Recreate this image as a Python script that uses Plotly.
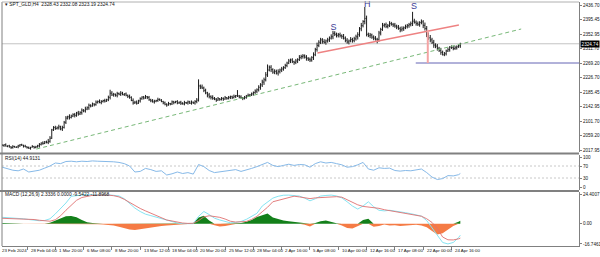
import plotly.graph_objects as go

# ---------------- data ----------------
title_text = "▾ SPT_GLD,H4  2328.43 2332.08 2323.19 2324.74"
rsi_title = "RSI(14) 44.9131"
macd_title = "MACD (12,26,9) 2.3336 0.0000 -9.5422 -11.8968"

close = [
    2029, 2032,
    2031, 2033, 2029, 2030, 2027, 2025, 2028, 2026, 2027, 2030,
    2033, 2032, 2029, 2027, 2025, 2023, 2026, 2028, 2025, 2027,
    2030, 2034, 2038, 2037, 2041, 2040, 2043, 2052, 2076, 2083,
    2080, 2082, 2085, 2079, 2083, 2098, 2110, 2114, 2112, 2116,
    2120, 2118, 2125, 2122, 2126, 2133, 2131, 2136, 2140, 2147,
    2145, 2151, 2149, 2156, 2158, 2155, 2158, 2161, 2159, 2163,
    2170, 2182, 2177, 2179, 2176, 2181, 2179, 2182, 2178, 2180,
    2176, 2173, 2170, 2161, 2154, 2156, 2153, 2160, 2166, 2171,
    2168, 2172, 2170, 2163, 2160, 2157, 2159, 2161, 2164, 2162,
    2158, 2154, 2150, 2148, 2152, 2151, 2157, 2155, 2158, 2154,
    2156, 2153, 2151, 2155, 2154, 2157, 2153, 2156, 2154, 2158,
    2162, 2203, 2200, 2197, 2190, 2183, 2177, 2172, 2170, 2167,
    2165, 2162, 2166, 2164, 2167, 2165, 2169, 2167, 2170, 2172,
    2169, 2173, 2175, 2174, 2171, 2169, 2167, 2170, 2174, 2176,
    2177, 2180, 2184, 2188, 2192, 2199, 2206, 2214, 2221, 2235,
    2249, 2257, 2250, 2243, 2245, 2240, 2244, 2249, 2252, 2256,
    2262, 2269, 2275, 2278, 2273, 2271, 2275, 2279, 2285, 2288,
    2290, 2286, 2283, 2280, 2278, 2285, 2293, 2308, 2320, 2329,
    2336, 2331, 2329, 2333, 2336, 2341, 2345, 2355, 2352, 2349,
    2351, 2348, 2346, 2341, 2335, 2330, 2333, 2337, 2334, 2339,
    2345, 2351, 2368, 2377, 2389, 2398, 2352, 2348, 2350, 2344,
    2341, 2338, 2336, 2356, 2366, 2378, 2380, 2375, 2377, 2383,
    2381, 2379, 2376, 2373, 2369, 2365, 2368, 2371, 2374, 2377,
    2380, 2383, 2390, 2387, 2383, 2381, 2386, 2388, 2378, 2369,
    2352, 2342, 2336, 2329, 2321, 2318, 2312, 2306, 2300, 2293,
    2296, 2304, 2308, 2315, 2314, 2311, 2313, 2316, 2319, 2324.74,
]
# estimated wick lengths above / below each bar body (price units, one digit per bar)
wick_up = ("23"
           "3241324213" "2314231423" "3425347634" "5463546374" "4536453745"
           "3425364253" "5364253642" "4253645342" "3524354253" "3243524324"
           "2435243524" "6547453646" "4352435243" "3524352435" "3435465768"
           "7564657464" "5464536475" "5463547586" "6574657465" "5647564756"
           "6758468564" "5646574657" "5464657465" "5647564758" "7586756475"
           "5463546453")
wick_dn = ("32"
           "2413243124" "3241324132" "2534235423" "4354635463" "3645364536"
           "4253425342" "4635463524" "3542534253" "4253425342" "2435243524"
           "3524352435" "5463547564" "3524352435" "4253425342" "4354657685"
           "6475647565" "4536475645" "6475657465" "5647564756" "6574657465"
           "5867586475" "6465746564" "4656475645" "6574657586" "8675867576"
           "4536454536")
wick_high = {63: 2192, 113: 2222, 135: 2191, 152: 2265, 189: 2362, 207: 2431, 234: 2417}
wick_low = {214: 2326, 251: 2291}
last_price = 2324.74

price_ticks = [2436.70, 2395.45, 2352.95, 2311.70, 2269.20, 2226.70,
               2185.45, 2142.95, 2101.70, 2059.20, 2017.95]
price_ticktext = ["2436.70", "2395.45", "2352.95", "2311.70", "2269.20", "2226.70",
                  "2185.45", "2142.95", "2101.70", "2059.20", "2017.95"]

x_labels = ["23 Feb 2024", "28 Feb 04:00", "1 Mar 20:00", "6 Mar 08:00", "8 Mar 20:00",
            "13 Mar 12:00", "18 Mar 04:00", "20 Mar 20:00", "25 Mar 12:00", "28 Mar 04:00",
            "2 Apr 16:00", "5 Apr 08:00", "10 Apr 00:00", "12 Apr 16:00", "17 Apr 08:00",
            "22 Apr 00:00", "24 Apr 16:00"]
LABEL_STEP = 16

rsi_values = [66, 60, 56, 54, 60, 50, 53, 56, 63, 70,
              80, 78, 85, 86, 84, 86, 85, 87, 86, 86,
              85, 84, 82, 78, 70, 50, 52, 62, 58, 52,
              54, 40, 44, 50, 45, 48, 43, 75, 68, 55,
              48, 50, 53, 56, 58, 52, 56, 62, 68, 76,
              82, 72, 68, 72, 76, 72, 75, 74, 66, 78,
              84, 80, 82, 78, 74, 66, 68, 74, 82, 60,
              56, 64, 62, 63, 55, 53, 55, 54, 56, 60,
              48, 33, 25, 28, 38, 37, 41, 44.9131]

macd_main = [5.2, 5.0, 4.8, 4.5, 4.0, 3.4, 2.8, 2.4, 2.6, 4.0,
             8.0, 12.5, 17.0, 22.5, 23.3, 23.6, 23.8, 23.9, 23.8, 23.8,
             23.6, 23.3, 22.8, 20.5, 16.8, 12.8, 10.0, 7.8, 6.6, 5.4,
             3.8, 2.4, 1.3, 0.5, 0.0, -0.3, 0.0, 6.0, 10.0, 7.5,
             4.5, 3.0, 1.8, 0.7, 1.0, 1.8, 3.5, 6.0, 8.5, 14.5,
             17.5, 21.0, 22.5, 23.4, 23.5, 23.3, 22.7, 21.0, 18.8, 20.5,
             22.7, 23.2, 23.5, 22.8, 21.2, 18.0, 14.5, 12.0, 14.5, 18.0,
             13.9, 11.0, 10.5, 11.0, 10.5, 9.8, 9.0, 8.2, 7.4, 6.2,
             2.5, -3.5, -8.5, -15.5, -16.7, -15.5, -11.5, -9.5422]

macd_signal = [4.4, 4.3, 4.2, 4.1, 3.9, 3.6, 3.4, 2.8, 2.3, 2.0,
               3.2, 6.5, 11.0, 15.5, 19.2, 21.5, 22.7, 23.3, 23.5, 23.6,
               23.5, 23.0, 22.0, 20.0, 17.5, 14.8, 12.5, 10.5, 8.5, 6.9,
               5.0, 3.0, 2.2, 1.1, 0.5, 0.2, 0.3, 2.5, 5.5, 6.5,
               6.0, 5.2, 3.8, 2.0, 1.3, 1.3, 1.8, 3.5, 6.0, 9.8,
               13.5, 18.0, 19.2, 20.8, 21.8, 22.6, 22.0, 21.2, 20.6, 21.2,
               21.6, 22.0, 22.1, 22.2, 21.8, 19.8, 17.2, 15.5, 14.2, 13.8,
               13.2, 12.6, 11.5, 10.8, 9.8, 9.2, 8.4, 7.5, 6.9, 6.1,
               4.0, 1.0, -4.0, -11.0, -13.3, -13.4, -12.5, -11.8968]

macd_hist = [0.5, 0.6, 0.4, 0.2, -0.3, -0.6, -0.5, -0.4, -0.2, 0.8,
             2.5, 4.2, 6.0, 6.3, 5.2, 3.0, 1.2, 0.6, -0.4, -0.8,
             -1.0, -1.6, -2.5, -3.6, -4.9, -5.3, -4.6, -3.6, -3.0, -2.5,
             -2.0, -1.6, -1.1, -0.6, -0.3, -0.2, 0.3, 5.0, 6.5, 2.5,
             -1.4, -2.4, -2.0, -1.0, -0.3, 0.5, 1.5, 3.0, 5.5, 7.0,
             8.3, 5.0, 3.5, 2.5, 2.0, 1.5, 0.8, -1.0, -2.4, 0.5,
             2.0, 2.5, 1.5, 0.3, -1.5, -3.5, -4.0, -2.0, 3.0, 4.0,
             -2.5, -2.0, -0.6, -1.5, -1.4, -2.0, -1.5, -1.5, -1.0, -1.5,
             -3.0, -6.0, -9.0, -8.0, -5.0, -2.0, 1.5, 2.3336]
IND_STEP = 3
IND_START = 2

# chart drawings (bar index, price)
green_trend_x = [21.3, 295.4]
green_trend_y = [2020.8, 2367.4]
neckline_x = [180.2, 260.2]
neckline_y = [2298.1, 2379.0]
target_level = 2269.20
target_start = 235.8
drop_bar = 242.6
drop_range = [2269.2, 2365.0]
pattern_text = ["S", "H", "S"]
pattern_x = [189.3, 208.4, 234.8]
pattern_y = [2370.0, 2436.7, 2431.0]

# ---------------- figure ----------------
FONT = "Liberation Sans"
X_RANGE = [1.865, 328.1]
PLOT_TOP, PLOT_BOTTOM = 2, 246
PH = PLOT_BOTTOM - PLOT_TOP


def py(pix):
    return (PLOT_BOTTOM - pix) / PH


def px_paper(bar):
    return (bar - X_RANGE[0]) / (X_RANGE[1] - X_RANGE[0])


n = len(close)
x_bars = list(range(n))
opens = [close[0]] + close[:-1]
highs = [max(o, c) + int(w) for o, c, w in zip(opens, close, wick_up)]
lows = [min(o, c) - int(w) for o, c, w in zip(opens, close, wick_dn)]
for k, v in wick_high.items():
    highs[k] = v
for k, v in wick_low.items():
    lows[k] = v

ind_x = list(range(IND_START, n - 1, IND_STEP)) + [n - 1]

fig = go.Figure()
fig.add_trace(go.Ohlc(x=x_bars, open=opens, high=highs, low=lows, close=close,
                      increasing=dict(line=dict(color="#1c1c1c", width=1)),
                      decreasing=dict(line=dict(color="#1c1c1c", width=1)),
                      tickwidth=0.4, xaxis="x", yaxis="y", hoverinfo="skip"))

fig.add_trace(go.Scatter(x=green_trend_x, y=green_trend_y, mode="lines",
                         line=dict(color="#78b878", width=1, dash="4px,3px"), yaxis="y"))
fig.add_trace(go.Scatter(x=neckline_x, y=neckline_y, mode="lines",
                         line=dict(color="#ee8282", width=1.3), yaxis="y"))
fig.add_trace(go.Scatter(x=[target_start, X_RANGE[1]], y=[target_level, target_level], mode="lines",
                         line=dict(color="#6464b4", width=1), yaxis="y"))
fig.add_trace(go.Scatter(x=[drop_bar, drop_bar], y=drop_range, mode="lines",
                         line=dict(color="#f4a4a4", width=2), yaxis="y"))
fig.add_trace(go.Scatter(x=pattern_x, y=pattern_y, mode="text", text=pattern_text, cliponaxis=False,
                         textfont=dict(color="#3c3c96", size=9, family=FONT), yaxis="y"))

# RSI
fig.add_trace(go.Scatter(x=ind_x, y=rsi_values, mode="lines",
                         line=dict(color="#86b9e8", width=1), yaxis="y2"))

# MACD
hist_pos = [h if h > 0 else 0 for h in macd_hist]
hist_neg = [h if h < 0 else 0 for h in macd_hist]
fig.add_trace(go.Scatter(x=ind_x, y=hist_pos, mode="lines", fill="tozeroy",
                         fillcolor="#13801a", line=dict(width=0, color="#13801a"), yaxis="y3"))
fig.add_trace(go.Scatter(x=ind_x, y=hist_neg, mode="lines", fill="tozeroy",
                         fillcolor="#f57b45", line=dict(width=0, color="#f57b45"), yaxis="y3"))
fig.add_trace(go.Scatter(x=ind_x, y=macd_main, mode="lines",
                         line=dict(color="#86e4f2", width=1), yaxis="y3"))
fig.add_trace(go.Scatter(x=ind_x, y=macd_signal, mode="lines",
                         line=dict(color="#e07070", width=0.9), yaxis="y3"))

label_pos = [LABEL_STEP * k for k in range(len(x_labels))]

axis_common = dict(showgrid=False, zeroline=False, showline=True, linecolor="#808080",
                   linewidth=1, ticks="outside", ticklen=2, tickcolor="#808080",
                   tickfont=dict(size=4.6, color="#111", family=FONT), side="right",
                   anchor="x", automargin=False, fixedrange=True)

fig.update_layout(
    template="none",
    width=600, height=257,
    margin=dict(l=2, r=21, t=PLOT_TOP, b=257 - PLOT_BOTTOM),
    paper_bgcolor="white", plot_bgcolor="white", showlegend=False,
    font=dict(family=FONT, size=5, color="#111"),
    xaxis=dict(range=X_RANGE, anchor="y3", showgrid=False, zeroline=False, showline=True,
               linecolor="#808080", linewidth=1, ticks="outside", ticklen=3,
               tickcolor="#808080", tickvals=label_pos, showticklabels=False,
               rangeslider=dict(visible=False), automargin=False, fixedrange=True),
    yaxis=dict(domain=[py(152), 1], range=[2012.2, 2445.4], tickvals=price_ticks,
               ticktext=price_ticktext, **axis_common),
    yaxis2=dict(domain=[py(190), py(155)], range=[-10, 106.7], tickvals=[100, 70, 30, 0],
                ticktext=["100", "70", "30", "0"], **axis_common),
    yaxis3=dict(domain=[0, py(192)], range=[-18.4, 26.05], tickvals=[24.4007, 0, -16.7461],
                ticktext=["24.4007", "0.00", "-16.7461"], **axis_common),
)

shapes = []
shapes.append(dict(type="line", xref="paper", x0=0, x1=1, yref="y", y0=last_price, y1=last_price,
                   line=dict(color="#c4c4c4", width=1), layer="below"))
for lv in (70, 30):
    shapes.append(dict(type="line", xref="paper", x0=0, x1=1, yref="y2", y0=lv, y1=lv,
                       line=dict(color="#c8c8c8", width=1, dash="2px,2px"), layer="below"))
for pix in (153.5, 191):
    shapes.append(dict(type="line", xref="paper", x0=-0.01, x1=1.0, yref="paper",
                       y0=py(pix), y1=py(pix), line=dict(color="#808080", width=2.2)))
shapes.append(dict(type="line", xref="paper", x0=0, x1=0, yref="paper", y0=0, y1=1,
                   line=dict(color="#808080", width=1)))
shapes.append(dict(type="line", xref="paper", x0=0, x1=1, yref="paper", y0=1, y1=1,
                   line=dict(color="#b0b0b0", width=1)))
fig.update_layout(shapes=shapes)

ann = []
ann.append(dict(text=title_text, xref="paper", yref="paper", x=0.001, y=py(4.5),
                xanchor="left", yanchor="middle", showarrow=False,
                font=dict(size=4.8, color="#111", family=FONT)))
ann.append(dict(text=rsi_title, xref="paper", yref="paper", x=0.002, y=py(158.5),
                xanchor="left", yanchor="middle", showarrow=False,
                font=dict(size=4.8, color="#111", family=FONT)))
ann.append(dict(text=macd_title, xref="paper", yref="paper", x=0.002, y=py(195),
                xanchor="left", yanchor="middle", showarrow=False,
                font=dict(size=4.8, color="#111", family=FONT)))
ann.append(dict(text=f"{last_price:.2f}", xref="paper", yref="y", x=1.0, y=last_price,
                xanchor="left", yanchor="middle", showarrow=False, bgcolor="#000000",
                borderpad=0.6, xshift=1,
                font=dict(size=4.6, color="#ffffff", family=FONT)))
for pos, lab in zip(label_pos, x_labels):
    ann.append(dict(text=lab, xref="paper", yref="paper", x=px_paper(pos), y=py(250.5),
                    xanchor="left", yanchor="middle", showarrow=False, xshift=1.5,
                    font=dict(size=4.4, color="#111", family=FONT)))
fig.update_layout(annotations=ann)

fig.write_html("out.html")
